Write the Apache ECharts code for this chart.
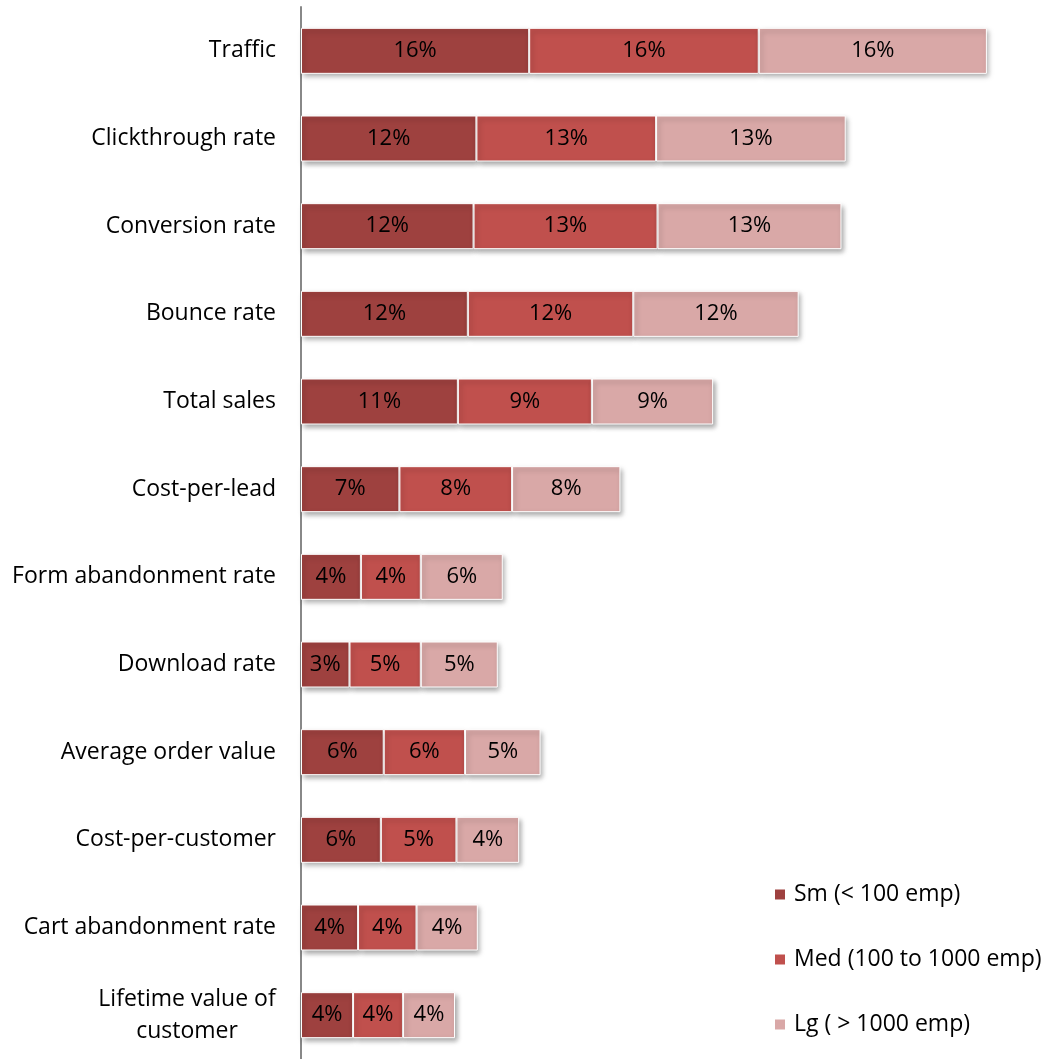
<!DOCTYPE html>
<html><head><meta charset="utf-8">
<script src="https://cdn.jsdelivr.net/npm/echarts@6/dist/echarts.min.js"></script>
<style>html,body{margin:0;padding:0;background:#fff}#c{width:1052px;height:1059px}</style>
</head><body><div id="c"></div>
<script>
const categories = ["Traffic","Clickthrough rate","Conversion rate","Bounce rate","Total sales","Cost-per-lead","Form abandonment rate","Download rate","Average order value","Cost-per-customer","Cart abandonment rate","Lifetime value of\ncustomer"];
const seriesNames = ["Sm (< 100 emp)","Med (100 to 1000 emp)","Lg ( > 1000 emp)"];
const sm  = [16.0,12.3,12.1,11.7,11.0,6.9,4.2,3.4,5.8,5.6,4.0,3.65];
const med = [16.1,12.6,12.9,11.6,9.4,7.9,4.2,5.0,5.7,5.3,4.1,3.5];
const lg  = [16.0,13.3,12.9,11.6,8.5,7.6,5.75,5.4,5.3,4.4,4.3,3.65];
const colors = ["#9E413F","#C0504D","#D9A8A7"];
const FONT = "Open Sans";
const chart = echarts.init(document.getElementById('c'));
function mk(name, data, color){
  return {name, type:'bar', stack:'s', data, barWidth:46,
    itemStyle:{color, borderColor:'#fff', borderWidth:1,
      shadowBlur:5, shadowOffsetX:2, shadowOffsetY:3, shadowColor:'rgba(0,0,0,0.35)'},
    label:{show:true, position:'inside', color:'#000', fontFamily:FONT, fontSize:22,
      formatter:p=>Math.round(p.value)+'%'}};
}
chart.setOption({
  animation:false,
  grid:{left:301, right:38, top:7, bottom:-4, containLabel:false},
  legend:{orient:'vertical', left:768, top:876, itemGap:38, itemWidth:12, itemHeight:12, icon:'rect',
    textStyle:{fontFamily:FONT, fontSize:23, lineHeight:27, color:'#000', padding:[0,0,0,3]}, data:seriesNames},
  xAxis:{type:'value', min:0, max:50, show:false},
  yAxis:{type:'category', inverse:true, data:categories,
    axisLine:{lineStyle:{color:'#888', width:2}}, axisTick:{show:false},
    axisLabel:{margin:25, fontFamily:FONT, fontSize:23, color:'#000', lineHeight:32,
      formatter:v=> v.indexOf('\n')>=0 ? '{c|'+v+'}' : v,
      rich:{c:{align:'center', width:178, fontFamily:FONT, fontSize:23, lineHeight:32, color:'#000'}}}},
  series:[mk(seriesNames[0],sm,colors[0]),mk(seriesNames[1],med,colors[1]),mk(seriesNames[2],lg,colors[2])]
});
</script></body></html>
